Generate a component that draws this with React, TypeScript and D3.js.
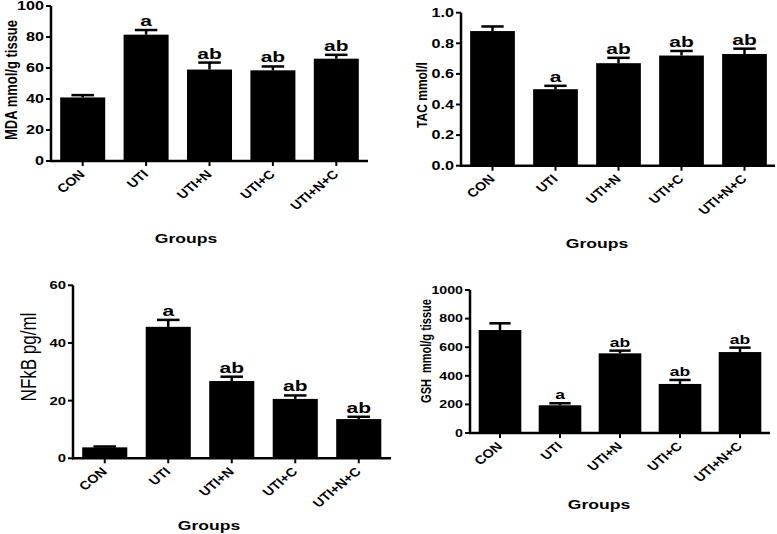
import * as d3 from 'd3'

const GROUPS = ['CON', 'UTI', 'UTI+N', 'UTI+C', 'UTI+N+C']
const LETTERS = ['', 'a', 'ab', 'ab', 'ab']

const MDA_MEAN = [41, 81.5, 59, 58.5, 66]
const MDA_SEM = [1.5, 3, 4.5, 2.5, 2.5]
const MDA_TICKS = [0, 20, 40, 60, 80, 100]

const TAC_MEAN = [0.88, 0.5, 0.67, 0.72, 0.73]
const TAC_SEM = [0.03, 0.022, 0.035, 0.03, 0.035]
const TAC_TICKS = [0, 0.2, 0.4, 0.6, 0.8, 1.0]

const NFKB_MEAN = [3.8, 45.6, 26.8, 20.6, 13.6]
const NFKB_SEM = [0.3, 2.4, 1.5, 1.2, 0.8]
const NFKB_TICKS = [0, 20, 40, 60]

const GSH_MEAN = [720, 194, 557, 343, 566]
const GSH_SEM = [47, 14, 19, 28, 31]
const GSH_TICKS = [0, 200, 400, 600, 800, 1000]

const FONT = '"Liberation Sans", Arial, sans-serif'
// the source figure looks stretched sideways, so text gets a horizontal scale
const SX = 1.35

type PanelProps = {
  mean: number[]
  sem: number[]
  ticks: number[]
  fmt: (v: number) => string
  x0: number
  step: number
  xEnd: number
  yBase: number
  yTop: number
  yLabel: string
  yLabelX: number
  yLabelY: number
  yLabelSize: number
  yLabelWeight: string
  groupsX: number
  groupsY: number
  letterSize: number
  tickSize: number
}

function Panel(p: PanelProps) {
  const x = d3.scaleBand<string>()
    .domain(GROUPS)
    .range([p.x0, p.x0 + p.step * GROUPS.length])
    .paddingInner(0.29)
    .paddingOuter(0.145)
  const max = p.ticks[p.ticks.length - 1]
  const y = d3.scaleLinear().domain([0, max]).range([p.yBase, p.yTop])
  const bw = x.bandwidth()
  const cap = bw * 0.5

  return (
    <g fontFamily={FONT}>
      {GROUPS.map((g, i) => {
        const bx = x(g) as number
        const cx = bx + bw / 2
        const top = y(p.mean[i])
        const et = y(p.mean[i] + p.sem[i])
        return (
          <g key={g}>
            <line x1={cx} x2={cx} y1={top} y2={et} stroke="#000" strokeWidth={2.5} />
            <line x1={cx - cap / 2} x2={cx + cap / 2} y1={et} y2={et} stroke="#000" strokeWidth={2.5} />
            <rect x={bx} y={top} width={bw} height={p.yBase - top} fill="#000" />
            {LETTERS[i] && (
              <text
                transform={`translate(${cx},${et - 4}) scale(1.4,1)`}
                textAnchor="middle"
                fontWeight="bold"
                fontSize={p.letterSize}
              >
                {LETTERS[i]}
              </text>
            )}
            {/* x tick + rotated label */}
            <line x1={cx} x2={cx} y1={p.yBase} y2={p.yBase + 5} stroke="#000" strokeWidth={2} />
            <text
              transform={`translate(${cx + 3},${p.yBase + 14}) scale(1.2,1) rotate(-45)`}
              textAnchor="end"
              fontWeight="bold"
              fontSize={12}
            >
              {g}
            </text>
          </g>
        )
      })}

      {/* axes */}
      <line x1={p.x0} x2={p.x0} y1={p.yBase + 1} y2={p.yTop} stroke="#000" strokeWidth={2.5} />
      <line x1={p.x0 - 1} x2={p.xEnd} y1={p.yBase} y2={p.yBase} stroke="#000" strokeWidth={2.5} />
      {p.ticks.map((t) => (
        <g key={t}>
          <line x1={p.x0 - 5} x2={p.x0} y1={y(t)} y2={y(t)} stroke="#000" strokeWidth={2} />
          <text
            transform={`translate(${p.x0 - 7},${y(t)}) scale(${SX},1)`}
            dy="0.36em"
            textAnchor="end"
            fontWeight="bold"
            fontSize={p.tickSize}
          >
            {p.fmt(t)}
          </text>
        </g>
      ))}

      <text
        transform={`translate(${p.yLabelX},${p.yLabelY}) scale(1.25,1) rotate(-90)`}
        textAnchor="middle"
        fontWeight={p.yLabelWeight}
        fontSize={p.yLabelSize}
        style={{ whiteSpace: 'pre' }}
      >
        {p.yLabel}
      </text>
      <text
        transform={`translate(${p.groupsX},${p.groupsY}) scale(1.3,1)`}
        textAnchor="middle"
        fontWeight="bold"
        fontSize={13.5}
      >
        Groups
      </text>
    </g>
  )
}

export default function App() {
  const intFmt = d3.format('d')
  const decFmt = d3.format('.1f')
  return (
    <svg width={777} height={534} style={{ position: 'absolute', left: 0, top: 0, background: '#fff' }}>
      <Panel
        mean={MDA_MEAN} sem={MDA_SEM} ticks={MDA_TICKS} fmt={intFmt}
        x0={51} step={63.4} xEnd={368} yBase={161} yTop={6}
        yLabel="MDA mmol/g tissue" yLabelX={17} yLabelY={80} yLabelSize={13} yLabelWeight="bold"
        groupsX={186} groupsY={243} letterSize={15} tickSize={12}
      />
      <Panel
        mean={TAC_MEAN} sem={TAC_SEM} ticks={TAC_TICKS} fmt={decFmt}
        x0={461} step={63} xEnd={775} yBase={165.7} yTop={12.7}
        yLabel="TAC mmol/l" yLabelX={427} yLabelY={95} yLabelSize={12} yLabelWeight="bold"
        groupsX={597} groupsY={248} letterSize={15} tickSize={12}
      />
      <Panel
        mean={NFKB_MEAN} sem={NFKB_SEM} ticks={NFKB_TICKS} fmt={intFmt}
        x0={73} step={63.5} xEnd={391} yBase={458.3} yTop={285.3}
        yLabel="NFkB pg/ml" yLabelX={36} yLabelY={357} yLabelSize={17} yLabelWeight="normal"
        groupsX={209} groupsY={530} letterSize={15} tickSize={11}
      />
      <Panel
        mean={GSH_MEAN} sem={GSH_SEM} ticks={GSH_TICKS} fmt={intFmt}
        x0={470} step={60} xEnd={770} yBase={433} yTop={290}
        yLabel="GSH  mmol/g tissue" yLabelX={431} yLabelY={351} yLabelSize={11} yLabelWeight="bold"
        groupsX={599} groupsY={509} letterSize={12.5} tickSize={10.5}
      />
    </svg>
  )
}
